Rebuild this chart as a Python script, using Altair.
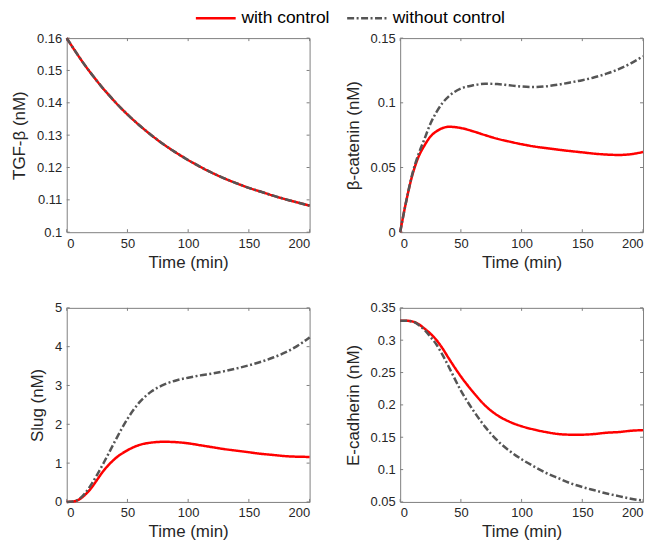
import altair as alt
import pandas as pd

# time grid (min)
time = [0, 5, 10, 15, 20, 25, 30, 35, 40, 50, 60, 70, 80, 90, 100,
        110, 120, 130, 140, 150, 160, 170, 180, 190, 200]

# TGF-beta (both series coincide)
tgf_with = [0.1600, 0.1571, 0.1543, 0.1516, 0.1491, 0.1467, 0.1444, 0.1423, 0.1402,
            0.1364, 0.1330, 0.1299, 0.1271, 0.1246, 0.1223, 0.1202, 0.1183, 0.1166,
            0.1151, 0.1137, 0.1125, 0.1113, 0.1102, 0.1092, 0.1082]
tgf_without = list(tgf_with)

# beta-catenin
bc_with = [0.0, 0.024, 0.044, 0.058, 0.067, 0.074, 0.078, 0.0805, 0.0815,
           0.0805, 0.0780, 0.0750, 0.0722, 0.0700, 0.0680, 0.0663, 0.0650, 0.0638,
           0.0627, 0.0617, 0.0607, 0.0600, 0.0597, 0.0603, 0.0620]
bc_without = [0.0, 0.024, 0.045, 0.060, 0.072, 0.084, 0.093, 0.100, 0.105,
              0.111, 0.1135, 0.1147, 0.1145, 0.1135, 0.1126, 0.1122, 0.1127, 0.1140,
              0.1157, 0.1175, 0.1197, 0.1225, 0.1260, 0.1305, 0.1360]

# Slug
slug_with = [0.0, 0.01, 0.06, 0.18, 0.35, 0.57, 0.79, 0.97, 1.12,
             1.33, 1.47, 1.53, 1.55, 1.54, 1.51, 1.46, 1.41, 1.36,
             1.32, 1.28, 1.24, 1.21, 1.18, 1.165, 1.16]
slug_without = [0.0, 0.01, 0.07, 0.22, 0.44, 0.70, 0.98, 1.28, 1.58,
                2.14, 2.57, 2.85, 3.02, 3.13, 3.20, 3.26, 3.31, 3.37,
                3.44, 3.52, 3.61, 3.72, 3.85, 4.02, 4.24]

# E-cadherin
ecad_with = [0.330, 0.330, 0.329, 0.325, 0.318, 0.310, 0.300, 0.287, 0.272,
             0.244, 0.220, 0.199, 0.184, 0.174, 0.167, 0.162, 0.158, 0.155,
             0.154, 0.154, 0.155, 0.157, 0.158, 0.160, 0.161]
ecad_without = [0.330, 0.330, 0.329, 0.324, 0.316, 0.305, 0.293, 0.277, 0.259,
                0.222, 0.192, 0.166, 0.145, 0.129, 0.116, 0.105, 0.095, 0.087,
                0.079, 0.073, 0.068, 0.063, 0.059, 0.055, 0.052]

series_names = ["with control", "without control"]
x_ticks = [0, 50, 100, 150, 200]

FONT = "Liberation Sans"
RED = "#ff0000"
GREY = "#555555"
AXC = "#7f7f7f"
W, H = 244, 195

color_scale = alt.Scale(domain=series_names, range=[RED, GREY])
dash_scale = alt.Scale(domain=series_names, range=[[1, 0], [7, 2.5, 2, 2.5]])

legend = alt.Legend(
    title=None, orient="none", direction="horizontal",
    legendX=141, legendY=-29,
    symbolType="M-10,0H10", symbolSize=16, symbolStrokeWidth=2.5,
    labelFontSize=17.5, labelFont=FONT, labelColor="#000000",
    labelLimit=300, columnPadding=11, labelOffset=17,
)


def make_df(w, wo):
    rows = []
    for t, a in zip(time, w):
        rows.append({"t": t, "v": a, "series": series_names[0]})
    for t, b in zip(time, wo):
        rows.append({"t": t, "v": b, "series": series_names[1]})
    return pd.DataFrame(rows)


def panel(w, wo, ytitle, domain, yticks):
    df = make_df(w, wo)
    xscale = alt.Scale(domain=[0, 200], nice=False)
    yscale = alt.Scale(domain=domain, nice=False, zero=False)
    xaxis = alt.Axis(values=x_ticks, labelPadding=5, titlePadding=4,
                     labelOverlap=False, title="Time (min)")
    yaxis = alt.Axis(values=yticks, labelExpr="toString(datum.value)",
                     labelOverlap=False, title=ytitle)
    base = alt.Chart(df).mark_line(strokeWidth=2.5, interpolate="monotone").encode(
        x=alt.X("t:Q", scale=xscale, axis=xaxis),
        y=alt.Y("v:Q", scale=yscale, axis=yaxis),
        color=alt.Color("series:N", scale=color_scale, legend=legend),
        strokeDash=alt.StrokeDash("series:N", scale=dash_scale, legend=legend),
    )
    red = base.transform_filter(alt.datum.series == series_names[0])
    grey = base.transform_filter(alt.datum.series == series_names[1])

    xt = pd.DataFrame({"t": x_ticks})
    yt = pd.DataFrame({"v": yticks})
    xt_enc = alt.X("t:Q", scale=xscale, axis=xaxis)
    yt_enc = alt.Y("v:Q", scale=yscale, axis=yaxis)
    tick_bot = alt.Chart(xt).mark_rule(color=AXC, strokeWidth=1).encode(
        x=xt_enc, y=alt.value(H), y2=alt.value(H - 3))
    tick_top = alt.Chart(xt).mark_rule(color=AXC, strokeWidth=1).encode(
        x=xt_enc, y=alt.value(0), y2=alt.value(3))
    tick_left = alt.Chart(yt).mark_rule(color=AXC, strokeWidth=1).encode(
        y=yt_enc, x=alt.value(0), x2=alt.value(3))
    tick_right = alt.Chart(yt).mark_rule(color=AXC, strokeWidth=1).encode(
        y=yt_enc, x=alt.value(W), x2=alt.value(W - 3))
    return alt.layer(tick_bot, tick_top, tick_left, tick_right, red, grey).properties(
        width=W, height=H)


p1 = panel(tgf_with, tgf_without, "TGF-β (nM)", [0.1, 0.16],
           [0.1, 0.11, 0.12, 0.13, 0.14, 0.15, 0.16])
p2 = panel(bc_with, bc_without, "β-catenin (nM)", [0, 0.15],
           [0, 0.05, 0.1, 0.15])
p3 = panel(slug_with, slug_without, "Slug (nM)", [0, 5], [0, 1, 2, 3, 4, 5])
p4 = panel(ecad_with, ecad_without, "E-cadherin (nM)", [0.05, 0.35],
           [0.05, 0.1, 0.15, 0.2, 0.25, 0.3, 0.35])

row1 = alt.hconcat(p1, p2, spacing=28)
row2 = alt.hconcat(p3, p4, spacing=28)
chart = alt.vconcat(row1, row2, spacing=30).properties(
    padding={"left": 2, "top": 0, "right": 0, "bottom": 0}
).configure_view(
    stroke=AXC, strokeWidth=1
).configure_axis(
    grid=False, ticks=False, domain=False,
    labelFont=FONT, labelFontSize=13, labelColor="#262626", labelPadding=5,
    titleFont=FONT, titleFontSize=17, titleColor="#262626", titleFontWeight="normal",
    titlePadding=8,
)

chart.save("out.html", embed_options={"renderer": "svg", "actions": False})
